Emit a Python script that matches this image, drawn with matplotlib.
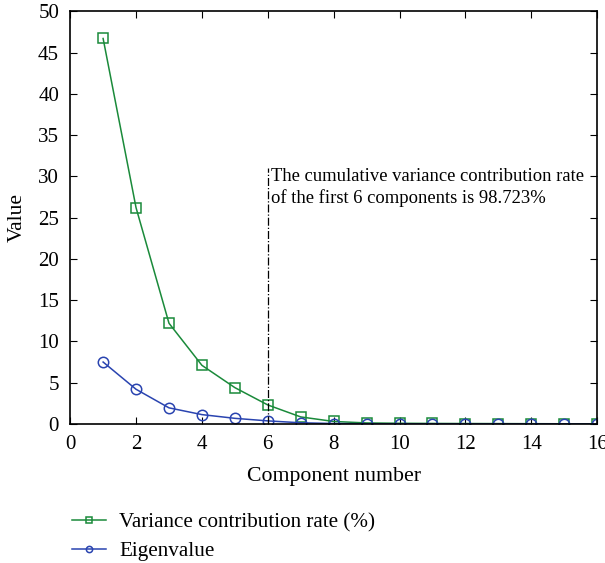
import matplotlib
matplotlib.use("Agg")
import matplotlib.pyplot as plt

components = list(range(1, 17))
variance_rate = [46.7, 26.2, 12.2, 7.1, 4.4, 2.3, 0.85, 0.3, 0.12, 0.08, 0.06, 0.05, 0.04, 0.03, 0.02, 0.01]
eigenvalue = [7.5, 4.2, 1.95, 1.13, 0.68, 0.37, 0.14, 0.05, 0.02, 0.013, 0.01, 0.008, 0.006, 0.005, 0.003, 0.002]
annotation = "The cumulative variance contribution rate\nof the first 6 components is 98.723%"

plt.rcParams['font.family'] = ['Liberation Serif', 'DejaVu Serif']
plt.rcParams['font.size'] = 15

fig = plt.figure(figsize=(6.05, 5.63), dpi=100)
ax = fig.add_axes([0.116, 0.247, 0.871, 0.733])

green = '#1a8a3a'
blue = '#2a44b0'
ax.plot(components, variance_rate, color=green, marker='s', markersize=7.5,
        markerfacecolor='none', markeredgewidth=1.1, linewidth=1.1,
        label='Variance contribution rate (%)')
ax.plot(components, eigenvalue, color=blue, marker='o', markersize=7.5,
        markerfacecolor='none', markeredgewidth=1.1, linewidth=1.1,
        label='Eigenvalue')

ax.plot([6, 6], [0, 31], color='black', linestyle='-.', linewidth=0.9)
ax.text(6.1, 31, annotation, fontsize=13.4, va='top', ha='left', linespacing=1.3)

ax.set_xlim(0, 16)
ax.set_ylim(0, 50)
ax.set_xticks(range(0, 17, 2))
ax.set_yticks(range(0, 51, 5))
ax.tick_params(direction='in', top=True, right=True, labelsize=15, length=5, pad=8)
for s in ax.spines.values():
    s.set_linewidth(1.2)
ax.set_xlabel('Component number', fontsize=15.7, labelpad=9)
ax.set_ylabel('Value', fontsize=15.5, labelpad=8)

handles, labels = ax.get_legend_handles_labels()
fig.legend(handles, labels, loc='upper left', bbox_to_anchor=(0.105, 0.104),
           frameon=False, fontsize=15.2, handlelength=1.6, handletextpad=0.65,
           markerscale=0.6, labelspacing=0.4, borderaxespad=0)

fig.savefig('out.png', dpi=100)
